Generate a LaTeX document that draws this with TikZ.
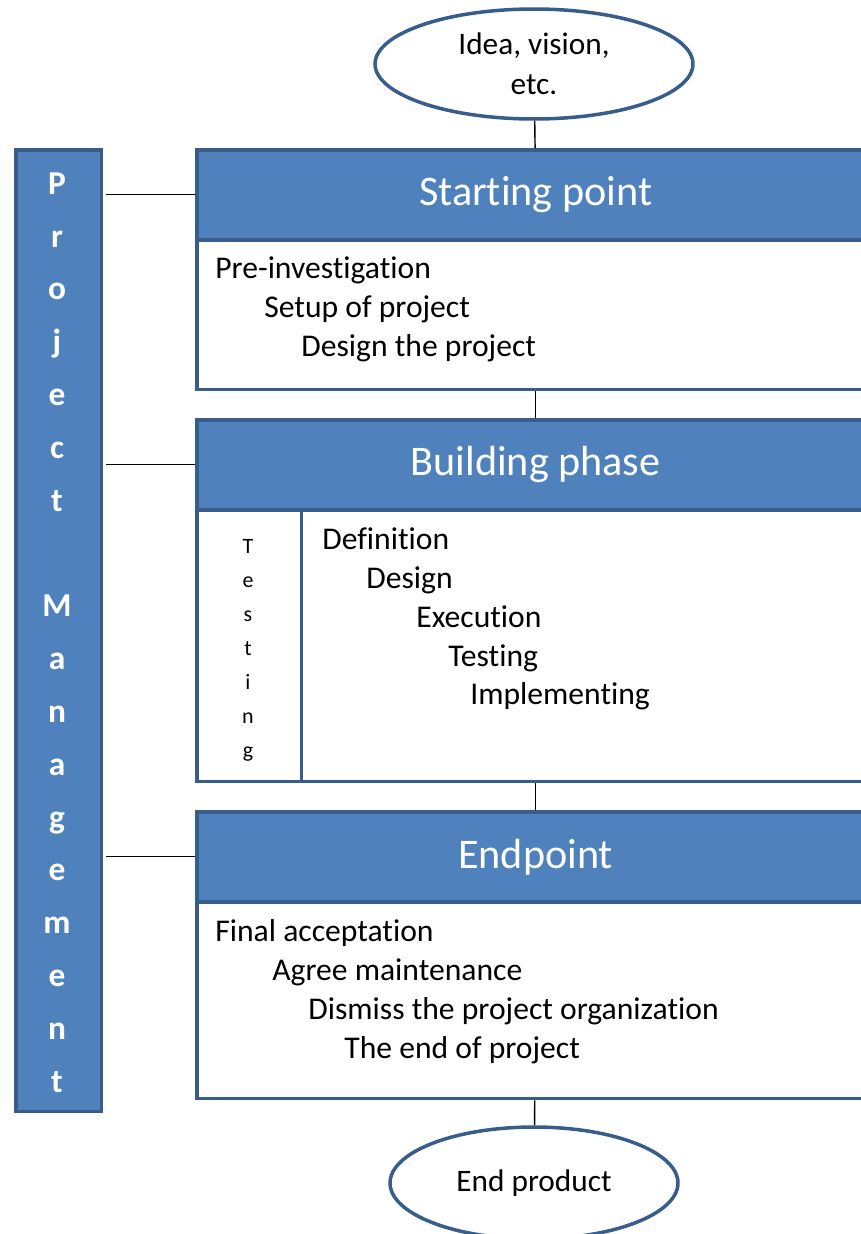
\documentclass[tikz,border=0pt]{standalone}
\usepackage{fontspec}
\setmainfont{Carlito}[Ligatures={NoCommon}]
\usetikzlibrary{shapes.geometric}

\definecolor{pmblue}{HTML}{4F81BD}
\definecolor{pmedge}{HTML}{385D8A}

\tikzset{
  box/.style={draw=pmedge, line width=2pt, anchor=north west, inner sep=0pt, minimum width=13.56cm},
  head/.style={box, fill=pmblue, text=white, minimum height=1.8cm, font=\fontsize{24}{28}\selectfont},
  body/.style={box, fill=white},
  item/.style={anchor=west, inner sep=0pt, yshift=-0.12cm, text height=0.7em, text depth=0.2em, font=\fontsize{18}{21}\selectfont},
  oval/.style={ellipse, draw=pmedge, line width=2pt, fill=white, inner sep=0pt, align=center, font=\fontsize{17.8}{22.7}\selectfont},
  pmletter/.style={text=white, inner sep=0pt, text height=0.7em, text depth=0.2em, font=\fontsize{19}{22}\selectfont\bfseries},
  testletter/.style={inner sep=0pt, text height=0.7em, text depth=0.2em, font=\fontsize{12.5}{14}\selectfont},
  link/.style={line width=0.8pt}
}

\begin{document}
\begin{tikzpicture}[x=0.02cm, y=-0.02cm]
\useasboundingbox (0,0) rectangle (861,1234);
\clip (0,0) rectangle (861,1234);

% what goes in and what comes out
\node[oval, minimum width=6.36cm, minimum height=2.2cm] (idea) at (534,64) {Idea, vision,\\etc.};
\node[oval, minimum width=5.76cm, minimum height=2.24cm] (product) at (534,1183) {End product};

% project management runs alongside every phase
\node[box, fill=pmblue, minimum width=1.72cm, minimum height=19.24cm] (pm) at (14,148) {};
\foreach \c [count=\i] in {P,r,o,j,e,c,t,{},M,a,n,a,g,e,m,e,n,t}
  \node[pmletter] (pm\i) at (57,{190+52.8*(\i-1)}) {\c};

% starting point
\node[head] (start) at (195,148) {Starting point};
\node[body, minimum height=3cm] (startbody) at (195,238) {};
\node[item] (pre) at (215,268) {Pre-investigation};
\node[item] (setup) at (264,307) {Setup of project};
\node[item] (design) at (301,346) {Design the project};

% building phase
\node[head] (build) at (195,418) {Building phase};
\node[body, minimum height=5.44cm] (buildbody) at (195,508) {};
\node[body, minimum width=2.1cm, minimum height=5.44cm] (testcol) at (195,508) {};
\foreach \c [count=\i] in {T,e,s,t,i,n,g}
  \node[testletter] (test\i) at (248,{549+34*(\i-1)}) {\c};
\node[item] (definition) at (322,539) {Definition};
\node[item] (designb) at (366,578) {Design};
\node[item] (execution) at (416,617) {Execution};
\node[item] (testing) at (448,656) {Testing};
\node[item] (implementing) at (470,694) {Implementing};

% endpoint
\node[head] (end) at (195,810) {Endpoint};
\node[body, minimum height=3.94cm] (endbody) at (195,900) {};
\node[item] (final) at (215,931) {Final acceptation};
\node[item] (maint) at (272,970) {Agree maintenance};
\node[item] (dismiss) at (308,1009) {Dismiss the project organization};
\node[item] (theend) at (344,1048) {The end of project};

% connectors
\draw[link] (idea) -- (start);
\draw[link] (startbody) -- (build);
\draw[link] (buildbody) -- (end);
\draw[link] (endbody) -- (product);
\foreach \h in {start,build,end}
  \draw[link, shorten <=1.5pt] (pm.east |- \h.west) -- (\h.west);
\end{tikzpicture}
\end{document}
